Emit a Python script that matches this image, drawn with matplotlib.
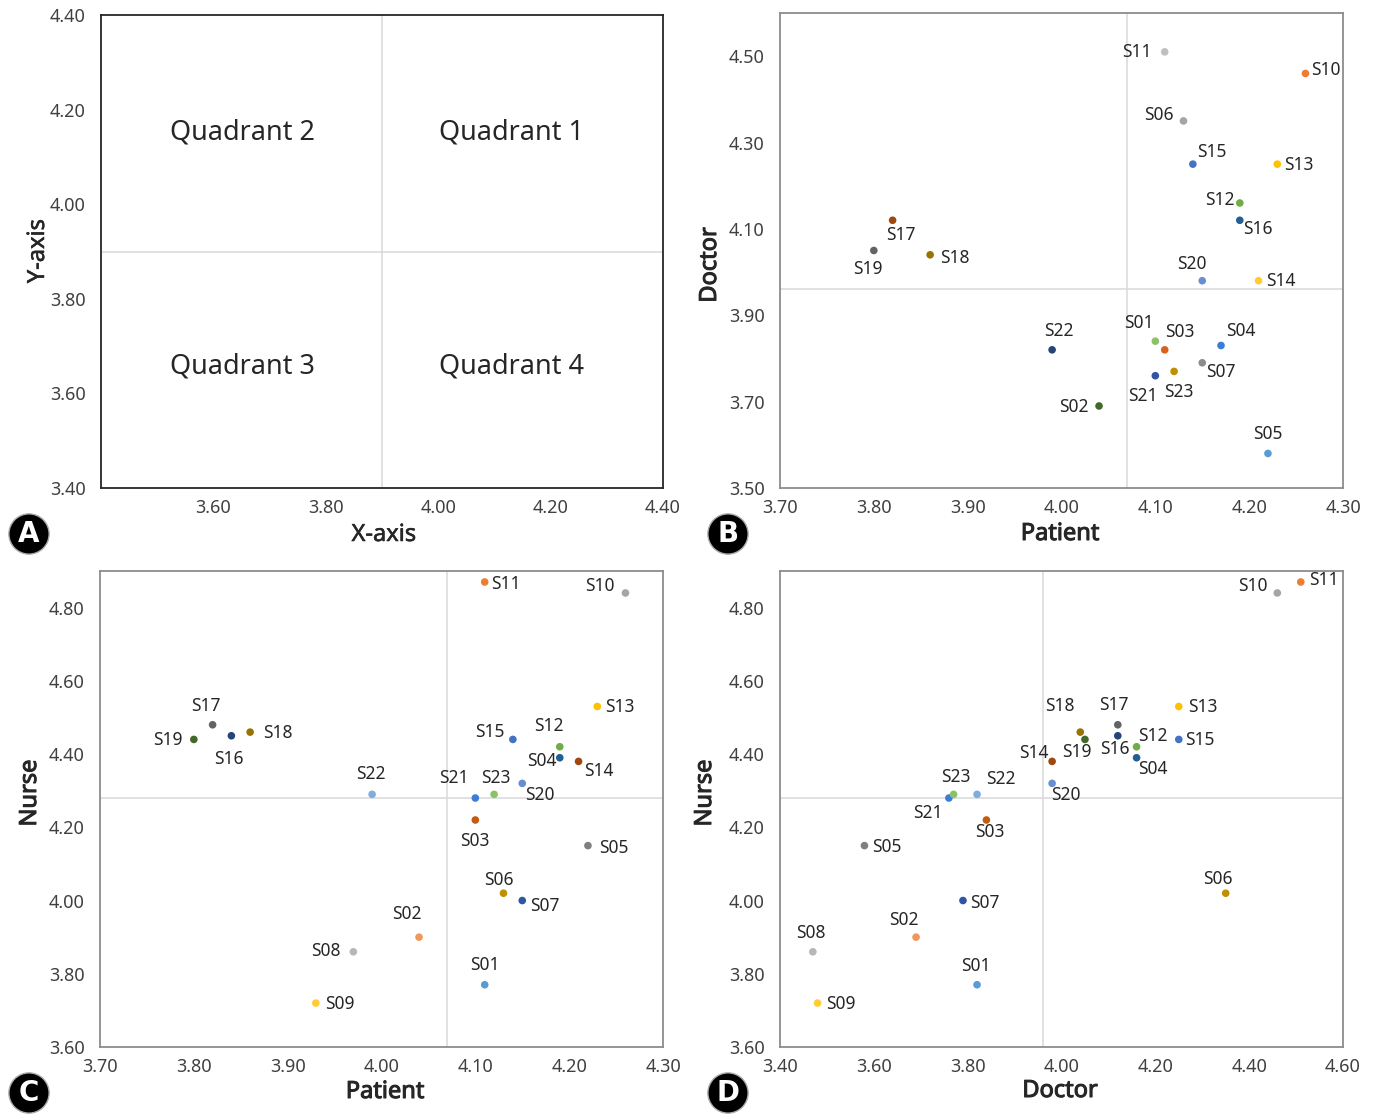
import matplotlib
matplotlib.use('Agg')
import matplotlib.pyplot as plt
import matplotlib.patheffects as pe

plt.rcParams['font.family'] = ['Noto Sans', 'DejaVu Sans']
plt.rcParams['font.stretch'] = 'condensed'

# ---- data ----
ids_b = ['S01', 'S02', 'S03', 'S04', 'S05', 'S06', 'S07', 'S10', 'S11', 'S12', 'S13',
         'S14', 'S15', 'S16', 'S17', 'S18', 'S19', 'S20', 'S21', 'S22', 'S23']
patient_b = [4.10, 4.04, 4.11, 4.17, 4.22, 4.13, 4.15, 4.26, 4.11, 4.19, 4.23,
             4.21, 4.14, 4.19, 3.82, 3.86, 3.80, 4.15, 4.10, 3.99, 4.12]
doctor_b = [3.84, 3.69, 3.82, 3.83, 3.58, 4.35, 3.79, 4.46, 4.51, 4.16, 4.25,
            3.98, 4.25, 4.12, 4.12, 4.04, 4.05, 3.98, 3.76, 3.82, 3.77]

ids = ['S%02d' % i for i in range(1, 24)]
patient_c = [4.11, 4.04, 4.10, 4.19, 4.22, 4.13, 4.15, 3.97, 3.93, 4.26, 4.11, 4.19,
             4.23, 4.21, 4.14, 3.84, 3.82, 3.86, 3.80, 4.15, 4.10, 3.99, 4.12]
nurse_c = [3.77, 3.90, 4.22, 4.39, 4.15, 4.02, 4.00, 3.86, 3.72, 4.84, 4.87, 4.42,
           4.53, 4.38, 4.44, 4.45, 4.48, 4.46, 4.44, 4.32, 4.28, 4.29, 4.29]
doctor_d = [3.82, 3.69, 3.84, 4.16, 3.58, 4.35, 3.79, 3.47, 3.48, 4.46, 4.51, 4.16,
            4.25, 3.98, 4.25, 4.12, 4.12, 4.04, 4.05, 3.98, 3.76, 3.82, 3.77]
nurse_d = [3.77, 3.90, 4.22, 4.39, 4.15, 4.02, 4.00, 3.86, 3.72, 4.84, 4.87, 4.42,
           4.53, 4.38, 4.44, 4.45, 4.48, 4.46, 4.44, 4.32, 4.28, 4.29, 4.29]

mean_patient, mean_doctor, mean_nurse = 4.07, 3.96, 4.28
quad_names = ['Quadrant 1', 'Quadrant 2', 'Quadrant 3', 'Quadrant 4']

# ---- styles ----
colors_cd = ['#5B9BD5', '#F1975A', '#C55A11', '#255E91', '#7F7F7F', '#BF9000', '#2F55A4',
             '#B7B7B7', '#FFCD33', '#A5A5A5', '#ED7D31', '#70AD47', '#FFC000', '#9E480E',
             '#4472C4', '#264478', '#636363', '#997300', '#43682B', '#698ED0', '#3B7DD8',
             '#7CAFDD', '#8CC168']
colors_b = ['#8CC168', '#43682B', '#D9621A', '#3B7DD8', '#5B9BD5', '#A5A5A5', '#8C8C8C',
            '#ED7D31', '#BFBFBF', '#70AD47', '#FFC000', '#FFCD33', '#4472C4', '#255E91',
            '#9E480E', '#997300', '#636363', '#698ED0', '#2F55A4', '#264478', '#BF9000']

# label offsets in pixels (dx right, dy down)
off_b = {'S11': (-28, 0), 'S10': (20, -3), 'S06': (-25, -6), 'S15': (19, -12), 'S13': (22, 1),
         'S12': (-20, -3), 'S16': (18, 9), 'S17': (8, 15), 'S19': (-6, 18), 'S18': (25, 3),
         'S20': (-10, -17), 'S14': (22, 0), 'S22': (7, -19), 'S01': (-16, -18), 'S03': (15, -18),
         'S04': (20, -15), 'S07': (19, 9), 'S23': (5, 21), 'S21': (-12, 20), 'S02': (-25, 1),
         'S05': (0, -19)}
off_c = {'S11': (21, 2), 'S10': (-26, -7), 'S13': (23, 1), 'S17': (-7, -19), 'S19': (-26, 1),
         'S16': (-2, 23), 'S18': (28, 1), 'S15': (-23, -7), 'S12': (-11, -21), 'S04': (-18, 3),
         'S14': (20, 10), 'S22': (-1, -20), 'S21': (-21, -20), 'S23': (2, -16), 'S20': (18, 12),
         'S03': (0, 21), 'S05': (26, 2), 'S06': (-5, -13), 'S07': (23, 5), 'S02': (-12, -23),
         'S08': (-27, -1), 'S01': (0, -20), 'S09': (24, 1)}
off_d = {'S11': (23, -2), 'S10': (-24, -7), 'S13': (24, 1), 'S17': (-4, -20), 'S16': (-3, 13),
         'S18': (-20, -26), 'S19': (-8, 13), 'S15': (21, 1), 'S12': (16, -11), 'S04': (16, 11),
         'S14': (-18, -8), 'S20': (14, 12), 'S22': (24, -15), 'S23': (2, -17), 'S21': (-21, 15),
         'S03': (3, 12), 'S05': (22, 1), 'S06': (-8, -14), 'S07': (22, 2), 'S02': (-12, -17),
         'S08': (-2, -19), 'S01': (-1, -19), 'S09': (23, 1)}

W, H = 1379, 1114
fig = plt.figure(figsize=(W / 100, H / 100), dpi=100)


def make_ax(l, r, t, b):
    return fig.add_axes([l / W, 1 - b / H, (r - l) / W, (b - t) / H])


def style(ax, xlim, ylim, xticks, yticks, spine='#8C8C8C'):
    ax.set_xlim(*xlim)
    ax.set_ylim(*ylim)
    ax.set_xticks(xticks)
    ax.set_yticks(yticks)
    ax.set_xticklabels(['%.2f' % v for v in xticks])
    ax.set_yticklabels(['%.2f' % v for v in yticks])
    ax.tick_params(length=0, labelsize=13, colors='#404040')
    ax.tick_params(axis='y', pad=11)
    ax.tick_params(axis='x', pad=8)
    for s in ax.spines.values():
        s.set_color(spine)
        s.set_linewidth(1.3)


def scatter_panel(ax, x, y, names, cols, offs, mx, my):
    ax.axvline(mx, color='#D9D9D9', lw=1.1, zorder=1)
    ax.axhline(my, color='#D9D9D9', lw=1.1, zorder=1)
    ax.scatter(x, y, s=30, c=cols, zorder=3, linewidths=0)
    for xi, yi, n in zip(x, y, names):
        dx, dy = offs[n]
        ax.annotate(n, (xi, yi), xytext=(dx * 0.72, -dy * 0.72), textcoords='offset points',
                    ha='center', va='center', fontsize=12.5, color='#262626')


# A
axA = make_ax(101, 663, 15, 488)
style(axA, (3.40, 4.40), (3.40, 4.40), [3.6, 3.8, 4.0, 4.2, 4.4],
      [3.4, 3.6, 3.8, 4.0, 4.2, 4.4], spine='#262626')
axA.axvline(3.90, color='#D9D9D9', lw=1.1)
axA.axhline(3.90, color='#D9D9D9', lw=1.1)
for name, qx, qy in zip(quad_names, [4.131, 3.651, 3.651, 4.131], [4.151, 4.151, 3.656, 3.656]):
    axA.text(qx, qy, name, ha='center', va='center', fontsize=19.5, color='#262626')

# B
axB = make_ax(780, 1343, 13, 488)
style(axB, (3.70, 4.30), (3.50, 4.60), [3.7, 3.8, 3.9, 4.0, 4.1, 4.2, 4.3],
      [3.5, 3.7, 3.9, 4.1, 4.3, 4.5])
scatter_panel(axB, patient_b, doctor_b, ids_b, colors_b, off_b, mean_patient, mean_doctor)

# C
axC = make_ax(100, 663, 571, 1047)
style(axC, (3.70, 4.30), (3.60, 4.90), [3.7, 3.8, 3.9, 4.0, 4.1, 4.2, 4.3],
      [3.6, 3.8, 4.0, 4.2, 4.4, 4.6, 4.8])
scatter_panel(axC, patient_c, nurse_c, ids, colors_cd, off_c, mean_patient, mean_nurse)

# D
axD = make_ax(780, 1343, 571, 1047)
style(axD, (3.40, 4.60), (3.60, 4.90), [3.4, 3.6, 3.8, 4.0, 4.2, 4.4, 4.6],
      [3.6, 3.8, 4.0, 4.2, 4.4, 4.6, 4.8])
scatter_panel(axD, doctor_d, nurse_d, ids, colors_cd, off_d, mean_doctor, mean_nurse)

# axis titles (faux bold via stroke, condensed bold face is not available)
for txt, x, y, rot, bold in [('X-axis', 384, 535, 0, False), ('Y-axis', 38, 251, 90, False),
                             ('Patient', 1060, 534, 0, True), ('Doctor', 710, 265, 90, True),
                             ('Patient', 385, 1092, 0, True), ('Nurse', 30, 793, 90, True),
                             ('Doctor', 1060, 1091, 0, True), ('Nurse', 705, 793, 90, True)]:
    fig.text(x / W, 1 - y / H, txt, ha='center', va='center', rotation=rot, fontsize=17,
             color='#262626',
             path_effects=[pe.withStroke(linewidth=0.75 if bold else 0.4, foreground='#262626')])

# panel letters
for letter, x, y in [('A', 29, 534), ('B', 728, 534), ('C', 29, 1093), ('D', 728, 1093)]:
    fig.text(x / W, 1 - y / H, letter, ha='center', va='center', fontsize=20,
             fontweight='bold', color='white', family=['DejaVu Sans'], stretch='normal',
             bbox=dict(boxstyle='circle,pad=0.22', fc='black', ec='#AAAAAA', lw=1))

fig.savefig('out.png', dpi=100)
